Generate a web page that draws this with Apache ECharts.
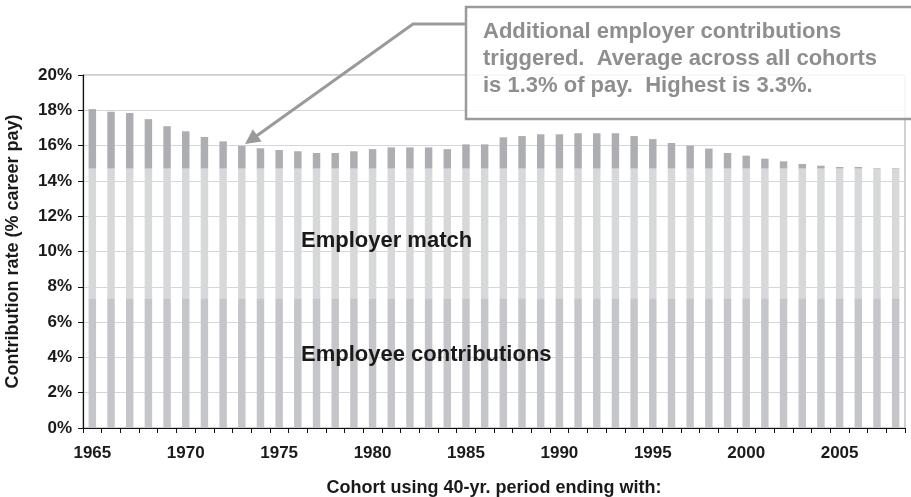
<!DOCTYPE html>
<html>
<head>
<meta charset="utf-8">
<script src="https://cdn.jsdelivr.net/npm/echarts@6/dist/echarts.min.js"></script>
<style>
  html, body { margin: 0; padding: 0; background: #fff; }
  #chart { width: 911px; height: 497px; }
</style>
</head>
<body>
<div id="chart"></div>
<script>
// cohort years (40-yr period ending with)
const years = [
  1965, 1966, 1967, 1968, 1969, 1970, 1971, 1972, 1973, 1974,
  1975, 1976, 1977, 1978, 1979, 1980, 1981, 1982, 1983, 1984,
  1985, 1986, 1987, 1988, 1989, 1990, 1991, 1992, 1993, 1994,
  1995, 1996, 1997, 1998, 1999, 2000, 2001, 2002, 2003, 2004,
  2005, 2006, 2007, 2008,
];
// % of career pay
const employee = years.map(() => 7.35);
const match = years.map(() => 7.35);
const additional = [
  3.37, 3.22, 3.15, 2.8, 2.4, 2.11, 1.79, 1.54, 1.29, 1.15,
  1.05, 0.98, 0.88, 0.88, 0.98, 1.1, 1.2, 1.2, 1.2, 1.1,
  1.37, 1.37, 1.77, 1.84, 1.94, 1.94, 2.0, 2.0, 2.0, 1.84,
  1.67, 1.45, 1.3, 1.13, 0.88, 0.73, 0.56, 0.41, 0.26, 0.16,
  0.09, 0.09, 0.03, 0.03,
];
const yTicks = [0, 2, 4, 6, 8, 10, 12, 14, 16, 18, 20];

const font = "Liberation Sans, Arial, sans-serif";

const option = {
  backgroundColor: "#fff",
  animation: false,
  grid: {
    left: 83,
    right: 6,
    top: 75,
    bottom: 69,
    outerBoundsMode: "none",
    show: true,
    borderColor: "#a3a3a3",
    borderWidth: 1,
  },
  xAxis: {
    type: "category",
    data: years.map(String),
    name: "Cohort using 40-yr. period ending with:",
    nameLocation: "middle",
    nameGap: 51,
    nameTextStyle: { color: "#1a1a1a", fontSize: 18, fontWeight: "bold", fontFamily: font },
    axisLine: { lineStyle: { color: "#111", width: 1.2 } },
    axisTick: { show: true, interval: 0, length: 5, lineStyle: { color: "#111" } },
    axisLabel: {
      interval: 4,
      margin: 17,
      color: "#1a1a1a",
      fontSize: 17,
      fontWeight: "bold",
      fontFamily: font,
    },
  },
  yAxis: {
    type: "value",
    min: yTicks[0],
    max: yTicks[yTicks.length - 1],
    interval: 2,
    name: "Contribution rate (% career pay)",
    nameLocation: "middle",
    nameGap: 61,
    nameTextStyle: { color: "#1a1a1a", fontSize: 18, fontWeight: "bold", fontFamily: font },
    axisLine: { show: true, lineStyle: { color: "#111", width: 1.2 } },
    axisTick: { show: true, length: 5, lineStyle: { color: "#111" } },
    axisLabel: {
      margin: 11,
      formatter: "{value}%",
      color: "#1a1a1a",
      fontSize: 17,
      fontWeight: "bold",
      fontFamily: font,
    },
    splitLine: { lineStyle: { color: "#d6d6d6" } },
  },
  series: [
    {
      name: "Employee contributions",
      type: "bar",
      stack: "total",
      barWidth: "40%",
      data: employee,
      itemStyle: { color: "#c5c6c9" },
    },
    {
      name: "Employer match",
      type: "bar",
      stack: "total",
      data: match,
      itemStyle: { color: "#d7d8da" },
    },
    {
      name: "Additional employer contributions",
      type: "bar",
      stack: "total",
      data: additional,
      itemStyle: { color: "#adaeb1" },
    },
  ],
  graphic: [
    // labels inside bars
    {
      type: "text",
      left: 301,
      top: 230,
      z: 10,
      style: { text: "Employer match", fill: "#1a1a1a", font: "bold 22px " + font },
    },
    {
      type: "text",
      left: 301,
      top: 344,
      z: 10,
      style: { text: "Employee contributions", fill: "#1a1a1a", font: "bold 22px " + font },
    },
    // callout arrow
    {
      type: "polyline",
      z: 10,
      shape: { points: [[466, 24], [413, 24], [255, 137]] },
      style: { stroke: "#9a9a9a", lineWidth: 3, fill: null },
    },
    {
      type: "polygon",
      z: 10,
      shape: { points: [[245, 144], [261.6, 141.4], [252.8, 129.2]] },
      style: { fill: "#9a9a9a" },
    },
    // callout box
    {
      type: "rect",
      z: 9,
      shape: { x: 466, y: 7, width: 460, height: 112 },
      style: { fill: "rgba(255,255,255,0.85)", stroke: "#9a9a9a", lineWidth: 2.5 },
    },
    {
      type: "text",
      z: 11,
      x: 483,
      y: 18,
      style: {
        text: "Additional employer contributions\ntriggered.  Average across all cohorts\nis 1.3% of pay.  Highest is 3.3%.",
        fill: "#8e8e8e",
        font: "bold 22px " + font,
        lineHeight: 27,
        verticalAlign: "top",
      },
    },
  ],
};

const chart = echarts.init(document.getElementById("chart"));
chart.setOption(option);
</script>
</body>
</html>
